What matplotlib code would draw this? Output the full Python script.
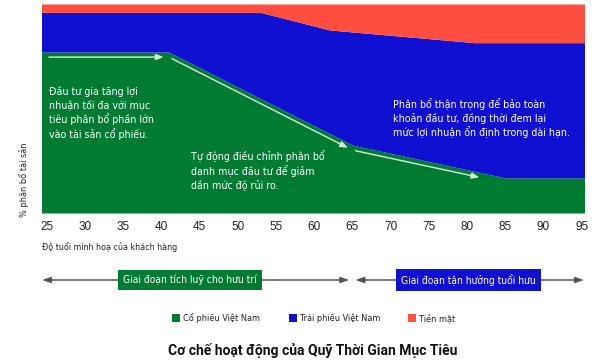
import numpy as np
import matplotlib
matplotlib.use('Agg')
import matplotlib.pyplot as plt
import matplotlib.transforms as mtransforms
from matplotlib import font_manager as fm

REG = ['Liberation Sans', 'DejaVu Sans']
plt.rcParams['font.family'] = REG

# look for a condensed face (the reference uses one); otherwise shrink a regular one
narrow_file = None
for f in fm.fontManager.ttflist:
    nm = f.name.lower()
    st = str(f.stretch).lower()
    if f.weight in (400, 'normal', 'regular') and f.style == 'normal' and (
            'narrow' in nm or 'condensed' in nm or st in ('condensed', 'semi-condensed')):
        narrow_file = f.fname
        break

def nfont(size):
    if narrow_file:
        return fm.FontProperties(fname=narrow_file, size=size)
    return fm.FontProperties(family=REG, size=size * 0.8)

GREEN = '#007c32'
BLUE = '#1010d2'
RED = '#ff4d40'

# ====== Data ======
stock_ages = [24, 41, 65, 85, 96]
stock_pct = [77, 77, 32.5, 16.8, 16.8]

bond_top_ages = [24, 53, 62, 81, 96]
bond_top_pct = [96, 96, 87.6, 81.5, 81.5]

arrow_ages = [(25.3, 40.3), (41.4, 64.4), (65.4, 81.6)]

tick_ages = [25, 30, 35, 40, 45, 50, 55, 60, 65, 70, 75, 80, 85, 90, 95]
retire_age = 65

series_names = ['Cổ phiếu Việt Nam', 'Trái phiếu Việt Nam', 'Tiền mặt']
phase_names = ['Giai đoạn tích luỹ cho hưu trí', 'Giai đoạn tận hưởng tuổi hưu']

notes = [
    'Đầu tư gia tăng lợi\nnhuận tối đa với mục\ntiêu phân bổ phần lớn\nvào tài sản cổ phiếu.',
    'Tự động điều chỉnh phân bổ\ndanh mục đầu tư để giảm\ndần mức độ rủi ro.',
    'Phân bổ thận trọng để bảo toàn\nkhoản đầu tư, đồng thời đem lại\nmức lợi nhuận ổn định trong dài hạn.',
]

# ====== Figure ======
fig = plt.figure(figsize=(6, 3.6), dpi=100)
ax = fig.add_axes([42/600, 1-213/360, 542/600, 209/360])

grid = np.union1d(stock_ages, bond_top_ages)
g = np.interp(grid, stock_ages, stock_pct)
b = np.interp(grid, bond_top_ages, bond_top_pct)
ax.fill_between(grid, 0, g, color=GREEN, lw=0)
ax.fill_between(grid, g, b, color=BLUE, lw=0)
ax.fill_between(grid, b, 100, color=RED, lw=0)

for a0, a1 in arrow_ages:
    y0 = np.interp(a0, stock_ages, stock_pct) - 2.4
    y1 = np.interp(a1, stock_ages, stock_pct) - 2.4
    ax.annotate('', xy=(a1, y1), xytext=(a0, y0),
                arrowprops=dict(arrowstyle='-|>,head_length=0.45,head_width=0.18',
                                color='#d8ecd8', lw=1.0, shrinkA=0, shrinkB=0))

ax.set_xlim(24.4, 95.3)
ax.set_ylim(0, 100)
ax.set_xticks(tick_ages)
ax.set_xticklabels([str(t) for t in tick_ages], fontsize=8.5, color='#222222')
ax.tick_params(axis='x', length=0, pad=6)
ax.set_yticks([])
for s in ax.spines.values():
    s.set_visible(False)

# annotations inside the chart
note_pos = [(49, 86), (191, 150), (393, 98)]
for (px, py), txt in zip(note_pos, notes):
    fig.text(px/600, 1-py/360, txt, fontproperties=nfont(7.7), color='white',
             ha='left', va='top', linespacing=1.3)

fig.text(24/600, 1-180/360, '% phân bổ tài sản', fontproperties=nfont(6.6),
         rotation=90, ha='center', va='center', color='#222222')
fig.text(42/600, 1-247/360, 'Độ tuổi minh hoạ của khách hàng', fontproperties=nfont(6.4),
         ha='left', va='center', color='#222222')

# phase arrows
trans = mtransforms.blended_transform_factory(ax.transData, fig.transFigure)
y_phase = 1 - 280/360
for x0, x1 in [(24.4, retire_age - 0.4), (retire_age + 0.4, 95.3)]:
    ax.annotate('', xy=(x1, y_phase), xytext=(x0, y_phase), xycoords=trans,
                textcoords=trans, annotation_clip=False,
                arrowprops=dict(arrowstyle='<|-|>,head_length=0.5,head_width=0.17',
                                color='#555555', lw=1.1, shrinkA=0, shrinkB=0))

for cx, txt, col in [(190, phase_names[0], GREEN), (468.5, phase_names[1], BLUE)]:
    fig.text(cx/600, y_phase, txt, fontproperties=nfont(7.4), color='white',
             ha='center', va='center',
             bbox=dict(boxstyle='square,pad=0.5', fc=col, ec='none'))

# legend drawn by hand so each entry sits where the reference has it
leg_x = [172, 289, 408]
leg_y = 1 - 318/360
for x, c, n in zip(leg_x, [GREEN, BLUE, RED], series_names):
    fig.patches.append(plt.Rectangle((x/600, leg_y - 4/360), 8/600, 8/360,
                                     transform=fig.transFigure, color=c, lw=0))
    fig.text((x + 11)/600, leg_y, n, fontproperties=nfont(6.6), ha='left', va='center',
             color='#222222')

fig.text(313/600, 1-350/360, 'Cơ chế hoạt động của Quỹ Thời Gian Mục Tiêu',
         family=['Roboto', 'DejaVu Sans'], fontsize=10, fontweight='semibold',
         ha='center', va='center', color='#111111')

fig.savefig('out.png', dpi=100)
